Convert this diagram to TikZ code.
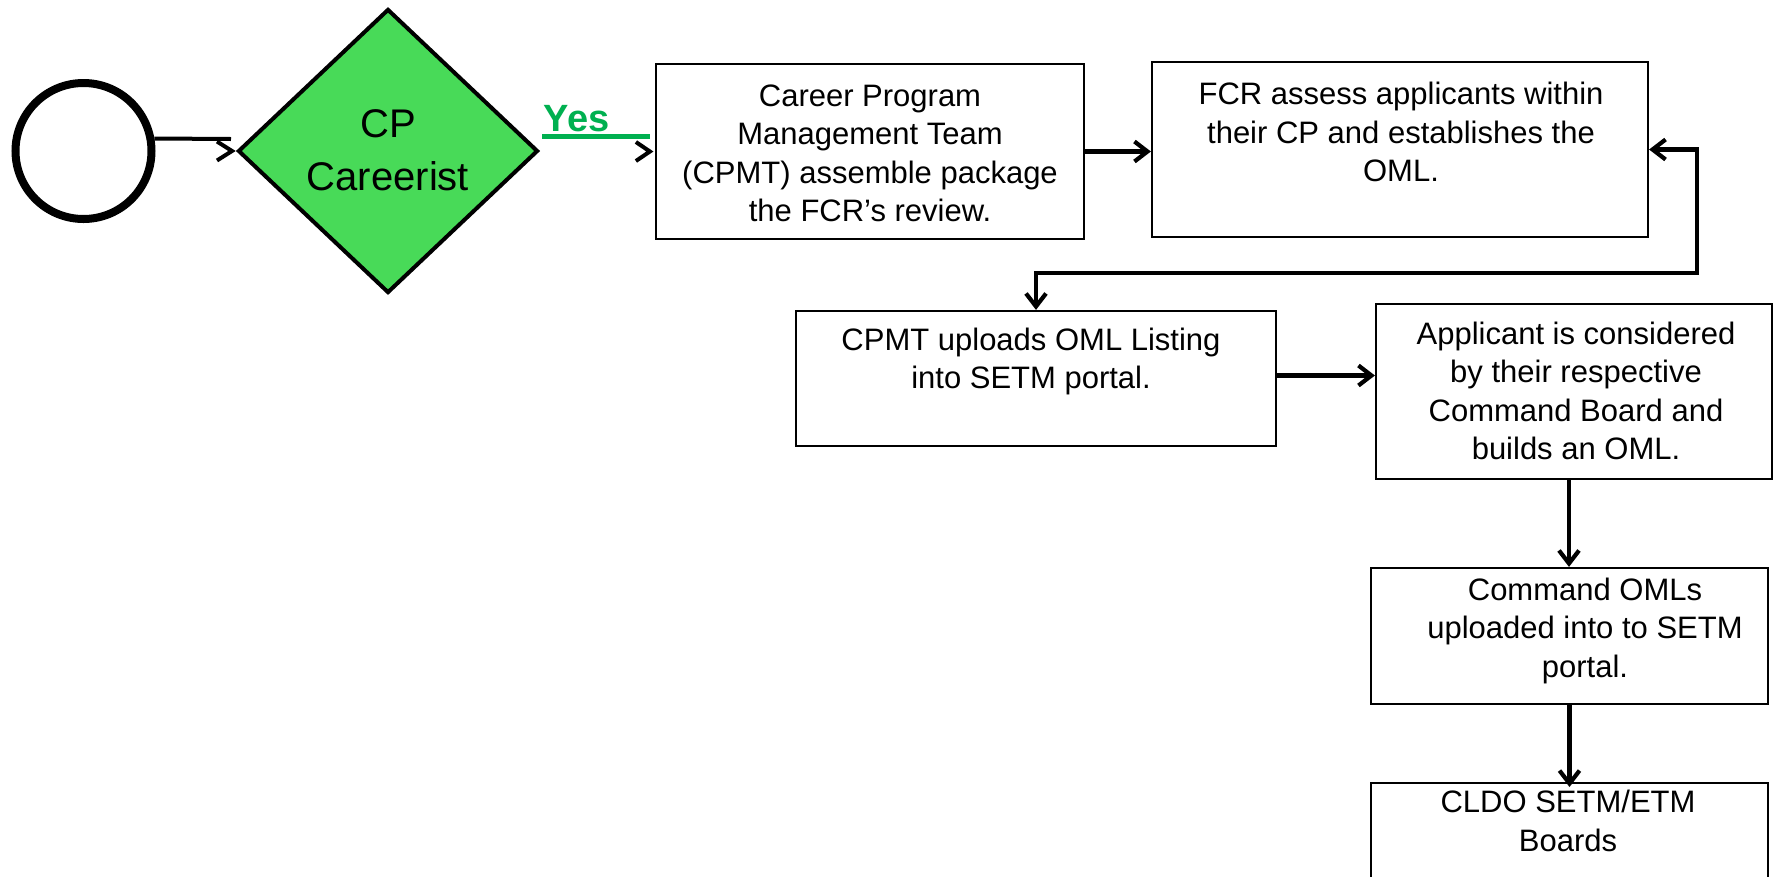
\documentclass[tikz,border=0pt]{standalone}
\usepackage{fontspec}
\setmainfont{Liberation Sans}
\usetikzlibrary{shapes.geometric,arrows.meta,calc}
\definecolor{dgreen}{RGB}{72,218,88}
\definecolor{ygreen}{RGB}{0,176,80}
\newcommand\mystrut{\rule[-0.22em]{0pt}{0.93em}}
\begin{document}
\begin{tikzpicture}[x=1pt,y=-1pt,
  >={Straight Barb[length=13pt,width=20pt]},
  box/.style={draw=black, line width=2.2pt, rectangle, inner sep=0pt, fill=white},
  txt/.style={align=center, inner sep=0pt, font=\fontsize{31}{38.5}\selectfont,
    execute at begin node=\mystrut, execute at end node=\mystrut},
  arr/.style={line width=4.2pt, ->},
  plainline/.style={line width=4pt},
  chev/.style={line width=4pt, line join=miter},
]
\useasboundingbox (0,0) rectangle (1775,876);
\clip (0,0) rectangle (1775,876);

% start and decision
\node[circle, draw, line width=8pt, minimum size=136pt, inner sep=0pt] (circ) at (83.5,151) {};
\node[diamond, draw, line width=4pt, fill=dgreen, minimum width=300pt, minimum height=284pt, inner sep=0pt] (dia) at (388,151) {};
\node[txt, font=\fontsize{40}{53}\selectfont] (tdia) at (388,154.5) {CP\\Careerist};
\node[font=\bfseries\fontsize{38}{40}\selectfont, text=ygreen, inner sep=0pt, anchor=base] (yes) at (576.5,131) {Yes};

% boxes
\node[box, minimum width=428pt, minimum height=175pt] (b1) at (870,151.5) {};
\node[box, minimum width=496pt, minimum height=175pt] (b2) at (1400,149.5) {};
\node[box, minimum width=480pt, minimum height=135pt] (b3) at (1036,378.5) {};
\node[box, minimum width=396pt, minimum height=175pt] (b4) at (1574,391.5) {};
\node[box, minimum width=397pt, minimum height=136pt] (b5) at (1569.5,636) {};
\node[box, minimum width=397pt, minimum height=200pt, anchor=north] (b6) at (1569.5,782) {};

% texts
\node[txt] (t1) at (870,156.5) {Career Program\\Management Team\\(CPMT) assemble package\\the FCR’s review.};
\node[txt] (t2) at (1401,135.5) {FCR assess applicants within\\their CP and establishes the\\OML.};
\node[txt] (t3) at (1031,361.5) {CPMT uploads OML Listing\\into SETM portal.};
\node[txt] (t4) at (1576,394) {Applicant is considered\\by their respective\\Command Board and\\builds an OML.};
\node[txt] (t5) at (1585,631) {Command OMLs\\uploaded into to SETM\\portal.};
\node[txt] (t6) at (1568,824) {CLDO SETM/ETM\\Boards};

% connectors
\coordinate (c1) at (231,139);
\draw[plainline] (circ.10) -- (c1);
\coordinate (v1) at ($(dia.west)+(-4,0)$);
\draw[chev] ($(v1)+(-15,-9.5)$) -- (v1) -- ($(v1)+(-15,9.5)$);

\draw[line width=5pt, ygreen] ($(dia.east)+(2,-15)$) -- ($(b1.west)+(-5,-15.5)$);
\coordinate (v2) at ($(b1.west)+(-5,0)$);
\draw[chev] ($(v2)+(-14,-9.5)$) -- (v2) -- ($(v2)+(-14,9.5)$);

\draw[arr] (b1.east) -- (b1.east -| b2.west);
\draw[line width=4.2pt, <->] (b2.east) -- ++(48,0) |- (b3.north |- 0,273) -- (b3.north);
\coordinate (a34) at ($(b3.east)+(0,-3)$);
\draw[arr] (a34) -- (a34 -| b4.west);
\coordinate (a45) at ($(b4.south)+(-5,0)$);
\draw[arr] (a45) -- (a45 |- b5.north);
\draw[arr] (b5.south) -- ($(b6.north)+(0,5)$);
\end{tikzpicture}
\end{document}
